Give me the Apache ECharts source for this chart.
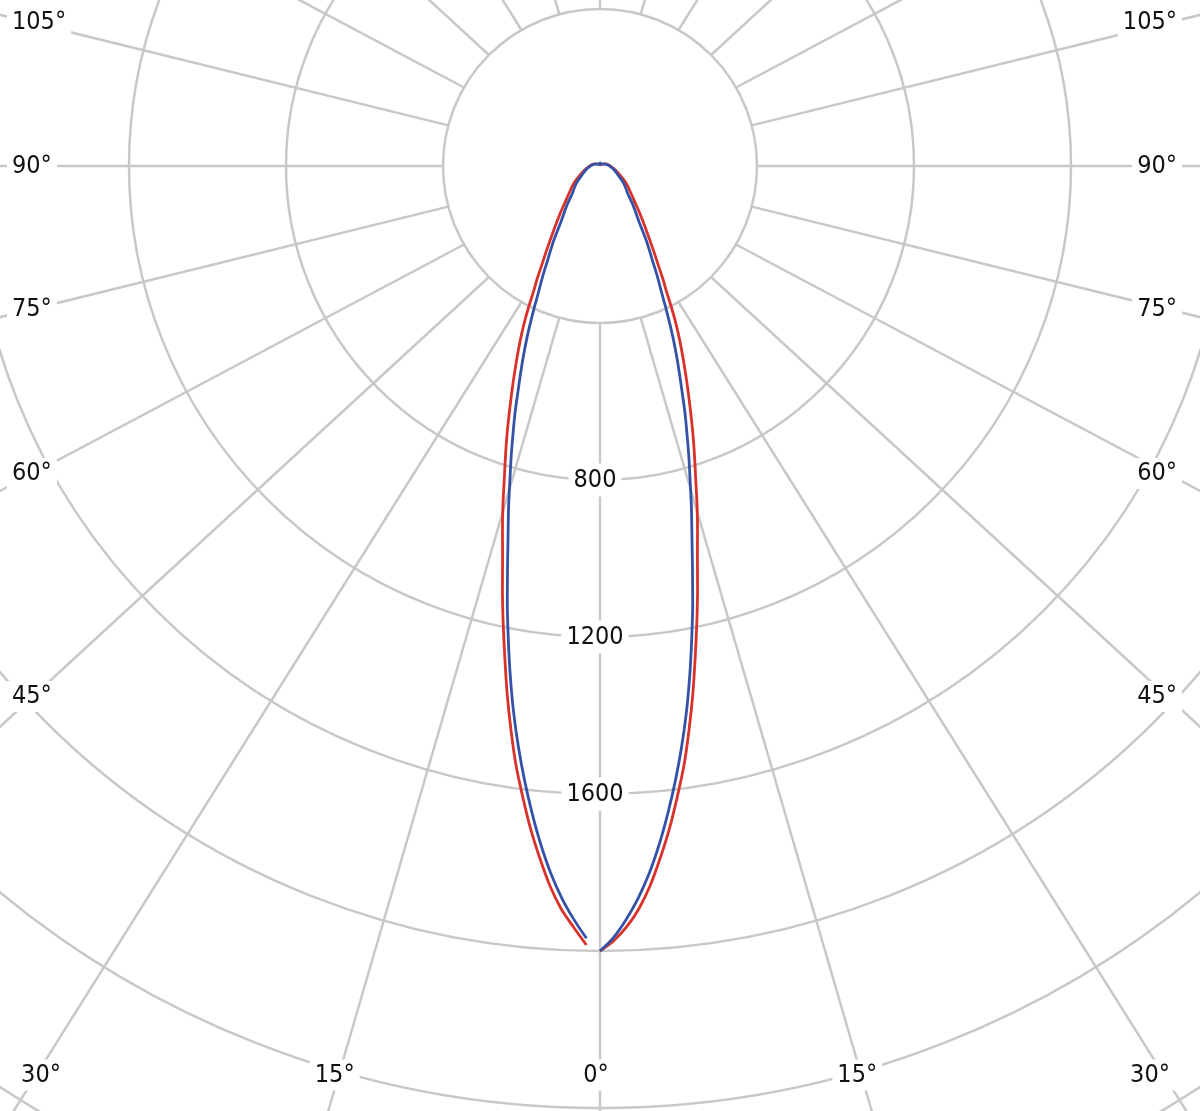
<!DOCTYPE html>
<html>
<head>
<meta charset="utf-8">
<script src="https://cdn.jsdelivr.net/npm/echarts@6/dist/echarts.min.js"></script>
<style>
html,body{margin:0;padding:0;background:#ffffff;}
#chart{width:1200px;height:1111px;}
</style>
</head>
<body>
<div id="chart"></div>
<script>
// ---- data (luminous intensity) ----
// vertical angles gamma (deg), 0 = straight down
const gammaAngles = [0,1,2,3,4,5,6,7,8,9,10,11,12,13,14,15,16,17,18,19,20,21,22,23,24,25,26,27,28,29,30,
  32,35,40,45,50,55,60,65,70,75,80,85,90,100,110,120,135,150,165,180];

// red curve, right half (C0) and left half (C180)
const redRight = [2000,1975,1940,1895,1837,1768,1696,1618,1540,1452,1363,1272,1187,1105,1026,960,897,834,780,729,679,632,589,548,510,473,435,396,359,332,304,
  261,212,158,122,100,85,70,57,48,41,35,30,26,20,15,11,7,5,4,3];
const redLeft = [null,1985,1940,1895,1837,1768,1696,1618,1540,1452,1363,1272,1187,1105,1026,960,897,834,780,729,679,632,589,548,510,473,435,396,359,332,304,
  261,212,158,122,100,85,70,57,48,41,35,30,26,20,15,11,7,5,4,3];

// blue curve, right half (C90) and left half (C270)
const blueRight = [2000,1966,1920,1867,1805,1734,1657,1577,1494,1408,1317,1225,1136,1047,968,900,833,774,717,665,611,564,520,477,434,394,357,329,302,276,256,
  221,173,132,100,85,72,58,49,42,37,32,28,25,19,14,10,7,5,4,8];
const blueLeft = [null,1968,1920,1867,1805,1734,1657,1577,1494,1408,1317,1225,1136,1047,968,900,833,774,717,665,611,564,520,477,434,394,357,329,302,276,256,
  221,173,132,100,85,72,58,49,42,37,32,28,25,19,14,10,7,5,4,8];

const ringLabelValues = [800, 1200, 1600];
const angleLabelValues = [0, 15, 30, 45, 60, 75, 90, 105];
const spokeStep = 15;

// ---- build polar data [radius, angle] ----
function buildCurve(rightVals, leftVals) {
  const out = [];
  for (let i = 0; i < gammaAngles.length; i++) {
    if (rightVals[i] != null) out.push([rightVals[i], gammaAngles[i]]);
  }
  for (let i = gammaAngles.length - 2; i >= 0; i--) {
    if (leftVals[i] != null) out.push([leftVals[i], 360 - gammaAngles[i]]);
  }
  return out;
}

const GRID = '#c8c8c8';
const GRID_W = 2.5;
const FONT = '25px "DejaVu Sans Condensed", "DejaVu Sans", "Liberation Sans Narrow", sans-serif';
const CENTER = [600, 166];
const INNER_R = 157;
const OUTER_R = 1256;
const RMAX = 3200;
const STEP = 400;
const SPOKE_STRETCH = 1.08;   // spokes run out to a slightly wider (elliptic) rim
const SPOKE_LEN = 1900;

const chart = echarts.init(document.getElementById('chart'), null, {renderer: 'canvas'});

const hidden = {axisLine: {show: false}, axisTick: {show: false}, axisLabel: {show: false}, splitLine: {show: false}};

chart.setOption({
  animation: false,
  backgroundColor: '#ffffff',
  polar: [
    {center: CENTER, radius: [INNER_R, OUTER_R]},
    {center: CENTER, radius: [0, OUTER_R]}
  ],
  angleAxis: [
    Object.assign({polarIndex: 0, type: 'value', min: 0, max: 360, interval: spokeStep,
      startAngle: 270, clockwise: false}, hidden),
    Object.assign({polarIndex: 1, type: 'value', min: 0, max: 360, interval: spokeStep,
      startAngle: 270, clockwise: false}, hidden)
  ],
  radiusAxis: [
    Object.assign({}, hidden, {
      polarIndex: 0, type: 'value', min: STEP, max: RMAX, interval: STEP,
      splitLine: {show: true, lineStyle: {color: GRID, width: GRID_W}}
    }),
    Object.assign({polarIndex: 1, type: 'value', min: 0, max: RMAX, interval: STEP}, hidden)
  ],
  series: [
    {
      type: 'line', coordinateSystem: 'polar', polarIndex: 1,
      data: buildCurve(redRight, redLeft),
      showSymbol: false, smooth: 0.25, z: 3,
      lineStyle: {color: '#d9322b', width: 2.8}
    },
    {
      type: 'line', coordinateSystem: 'polar', polarIndex: 1,
      data: buildCurve(blueRight, blueLeft),
      showSymbol: false, smooth: 0.25, z: 4,
      lineStyle: {color: '#3352a8', width: 2.8}
    }
  ]
});

// ---- spokes and labels, positioned through the polar scale ----
const graphics = [];
const c = chart.convertToPixel({polarIndex: 1}, [0, 0]);

function spoke(angle) {
  const pin = chart.convertToPixel({polarIndex: 1}, [STEP, angle]);
  const ux = (pin[0] - c[0]) / INNER_R, uy = (pin[1] - c[1]) / INNER_R;
  const pout = [c[0] + ux * SPOKE_STRETCH * SPOKE_LEN, c[1] + uy * SPOKE_LEN];
  return {p0: pin, p1: pout};
}

for (let a = 0; a < 360; a += spokeStep) {
  const s = spoke(a);
  graphics.push({
    type: 'line', silent: true, z: 1,
    shape: {x1: s.p0[0], y1: s.p0[1], x2: s.p1[0], y2: s.p1[1]},
    style: {stroke: GRID, lineWidth: GRID_W}
  });
}

ringLabelValues.forEach(v => {
  const p = chart.convertToPixel({polarIndex: 1}, [v, 0]);
  graphics.push({
    type: 'text', x: p[0] - 5, y: p[1], z: 100,
    style: {text: String(v), font: FONT, fill: '#111', align: 'center', verticalAlign: 'middle',
      backgroundColor: '#ffffff', padding: [4, 5]}
  });
});

const EDGE_DX = 567, Y_B = 1075;
const X_L = c[0] - EDGE_DX, X_R = c[0] + EDGE_DX;
function edgePoint(angle) {
  const s = spoke(angle);
  const dx = s.p1[0] - s.p0[0], dy = s.p1[1] - s.p0[1];
  let best = Infinity, side = null;
  if (dx < -1e-6) { const t = (X_L - s.p0[0]) / dx; if (t < best) { best = t; side = 'left'; } }
  if (dx > 1e-6) { const t = (X_R - s.p0[0]) / dx; if (t < best) { best = t; side = 'right'; } }
  if (dy > 1e-6) { const t = (Y_B - s.p0[1]) / dy; if (t < best) { best = t; side = 'bottom'; } }
  return {x: s.p0[0] + dx * best, y: s.p0[1] + dy * best, side: side};
}
angleLabelValues.forEach(g => {
  const angles = g === 0 ? [0] : [g, 360 - g];
  angles.forEach(a => {
    const e = edgePoint(a);
    let x = e.x, align = 'center';
    if (e.side === 'left') { x = 7; align = 'left'; }
    else if (e.side === 'right') { x = 1182; align = 'right'; }
    else { x = Math.min(Math.max(e.x, 45), 1154) - 4; }
    graphics.push({
      type: 'text', x: x, y: e.y, z: 100,
      style: {text: g + '°', font: FONT, fill: '#111', align: align, verticalAlign: 'middle',
        backgroundColor: '#ffffff', padding: [3, 5]}
    });
  });
});
chart.setOption({graphic: graphics});
</script>
</body>
</html>
